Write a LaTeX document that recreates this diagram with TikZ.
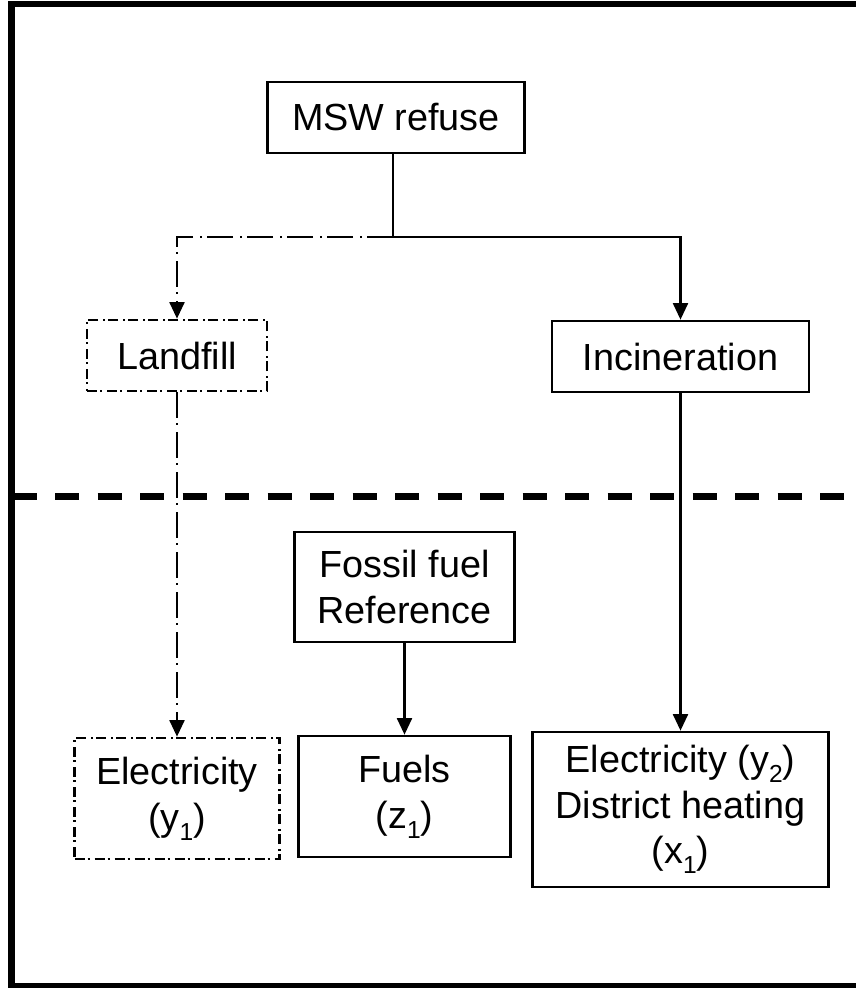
\documentclass[tikz,border=0pt]{standalone}
\usepackage{fontspec}
\setmainfont{Liberation Sans}
\usetikzlibrary{arrows.meta}
\newlength{\du}
\setlength{\du}{0.02cm}
\newcommand{\lowidx}[1]{\raisebox{-0.5ex}{\fontsize{14}{14}\selectfont #1}}

\begin{document}
\begin{tikzpicture}[
  blk/.style={draw,line width=2.6\du,inner sep=0pt,align=center,font=\fontsize{21.5}{26}\selectfont},
  dotblk/.style={blk,dash pattern=on 10\du off 3\du on 2\du off 5\du},
  flow/.style={line width=2.6\du,-{Triangle[length=9.5pt,width=8.5pt]}},
  dotflow/.style={flow,dash pattern=on 26\du off 5\du on 2\du off 7\du}]
\pgftransformyscale{-1.000000}
\useasboundingbox (0.000000\du,0.000000\du) rectangle (856.000000\du,988.000000\du);
% frame and divider
\draw[line width=6.5\du] (11.500000\du,4.000000\du) rectangle (862.000000\du,986.500000\du);
\draw[line width=7\du,dash pattern=on 24.3\du off 18.2\du] (12.500000\du,496.000000\du)--(856.000000\du,496.000000\du);
% boxes
\node[blk,minimum width=257\du,minimum height=71\du] (msw) at (396.000000\du,117.500000\du){MSW refuse};
\node[dotblk,minimum width=180\du,minimum height=71\du] (land) at (177.000000\du,355.500000\du){Landfill};
\node[blk,minimum width=257\du,minimum height=71\du] (inc) at (680.500000\du,356.500000\du){Incineration};
\node[blk,minimum width=220\du,minimum height=110\du] (fossil) at (404.500000\du,587.000000\du){Fossil fuel\\Reference};
\node[dotblk,minimum width=205\du,minimum height=121\du] (ely1) at (177.000000\du,798.500000\du){Electricity\\(y\lowidx{1})};
\node[blk,minimum width=212\du,minimum height=121\du] (fuels) at (404.500000\du,796.500000\du){Fuels\\(z\lowidx{1})};
\node[blk,minimum width=296\du,minimum height=155\du] (ely2) at (680.500000\du,809.500000\du){Electricity (y\lowidx{2})\\District heating\\(x\lowidx{1})};
% connectors
\coordinate (split) at (393.000000\du,237.000000\du);
\coordinate (lfturn) at (177.000000\du,237.000000\du);
\coordinate (incturn) at (680.500000\du,237.000000\du);
\draw[line width=2.6\du] (msw.south -| split)--(split);
\draw[flow] (split)--(incturn)--(inc.north);
\draw[dotflow] (split)--(lfturn)--(land.north);
\draw[dotflow] (land.south)--(ely1.north);
\draw[flow] (fossil.south)--(fuels.north);
\draw[flow] (inc.south)--(ely2.north);
\end{tikzpicture}
\end{document}
